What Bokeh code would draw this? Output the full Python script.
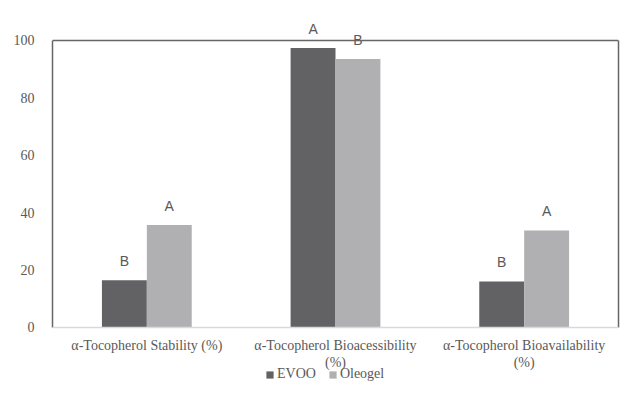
from bokeh.plotting import figure
from bokeh.models import (FactorRange, Range1d, Legend, LegendItem, ColumnDataSource,
                          LabelSet, LinearAxis, Span, FixedTicker)
from bokeh.transform import dodge
from bokeh.core.properties import value
from bokeh.embed import file_html
from bokeh.resources import INLINE

categories = ["α-Tocopherol Stability (%)",
              "α-Tocopherol Bioacessibility\n(%)",
              "α-Tocopherol Bioavailability\n(%)"]
evoo = [16.4, 97.4, 16.0]
oleogel = [35.7, 93.5, 33.8]
evoo_letters = ["B", "A", "B"]
oleogel_letters = ["A", "B", "A"]
y_ticks = [0, 20, 40, 60, 80, 100]

line1 = [c.split("\n")[0] for c in categories]
line2 = [c.split("\n")[1] if "\n" in c else "" for c in categories]

src = ColumnDataSource(dict(cat=categories, evoo=evoo, oleogel=oleogel,
                            el=evoo_letters, ol=oleogel_letters,
                            l1=line1, l2=line2))

p = figure(width=622, height=382, output_backend="svg", toolbar_location=None,
           x_range=FactorRange(factors=categories, range_padding=0),
           y_range=Range1d(-19.2, 106.6),
           min_border_left=52, min_border_top=21, min_border_right=4, min_border_bottom=0)

bw = 0.238
r1 = p.vbar(x=dodge("cat", -bw / 2, range=p.x_range), top="evoo", width=bw,
            source=src, fill_color="#626264", line_color=None)
r2 = p.vbar(x=dodge("cat", bw / 2, range=p.x_range), top="oleogel", width=bw,
            source=src, fill_color="#b0b0b3", line_color=None)

for col, lab, off in (("evoo", "el", -bw / 2), ("oleogel", "ol", bw / 2)):
    p.add_layout(LabelSet(x=dodge("cat", off, range=p.x_range), y=col, text=lab, source=src,
                          text_align="center", text_baseline="bottom", y_offset=11,
                          text_font=value("Liberation Sans"), text_font_size="14px",
                          text_color="#595959"))

# category labels under the axis line (two centred lines)
for field, off in (("l1", -11), ("l2", -28)):
    p.add_layout(LabelSet(x="cat", y=0, text=field, source=src,
                          text_align="center", text_baseline="top", y_offset=off,
                          text_font=value("Liberation Serif"), text_font_size="14px",
                          text_color="#595959"))

p.grid.visible = False
p.outline_line_color = None
p.background_fill_color = "white"
p.border_fill_color = "white"
p.xaxis.visible = False

frame_col = "#666666"
p.add_layout(Span(location=100, dimension="width", line_color=frame_col, line_width=1.5))
p.add_layout(Span(location=0, dimension="width", line_color="#d9d9d9", line_width=1.5))

p.yaxis.ticker = y_ticks
p.yaxis.bounds = (0, 100)
p.yaxis.axis_line_color = frame_col
p.yaxis.axis_line_width = 1.5
p.yaxis.major_tick_line_color = None
p.yaxis.minor_tick_line_color = None
p.yaxis.major_label_standoff = 12
p.yaxis.major_label_text_font = "Liberation Serif"
p.yaxis.major_label_text_font_size = "14px"
p.yaxis.major_label_text_color = "#595959"

right = LinearAxis(ticker=FixedTicker(ticks=[]), bounds=(0, 100), axis_line_color=frame_col,
                   axis_line_width=1.5, major_tick_line_color=None,
                   minor_tick_line_color=None, major_label_standoff=0)
p.add_layout(right, "right")

legend = Legend(items=[LegendItem(label="EVOO", renderers=[r1]),
                       LegendItem(label="Oleogel", renderers=[r2])],
                orientation="horizontal", location=(213, 0),
                glyph_width=9, glyph_height=9, spacing=12, padding=0, margin=0,
                label_standoff=3, label_height=12,
                label_text_font="Liberation Serif", label_text_font_size="14px",
                label_text_color="#595959", border_line_color=None,
                background_fill_alpha=0)
p.add_layout(legend)

open("out.html", "w").write(file_html(p, INLINE))
